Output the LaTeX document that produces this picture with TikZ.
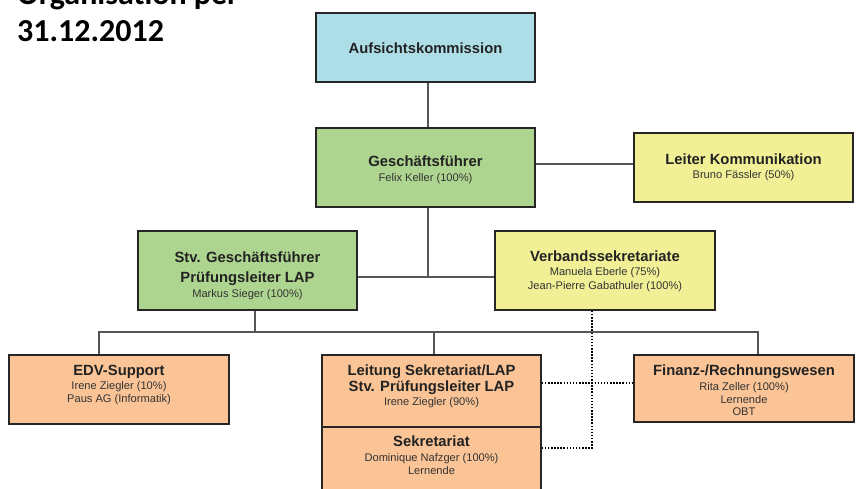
\documentclass[tikz,border=0pt]{standalone}
\usepackage{fontspec}
\setmainfont{Liberation Sans}
\newfontfamily\titlefont{Carlito}
\definecolor{cblue}{HTML}{ADDEE7}
\definecolor{cgreen}{HTML}{AED590}
\definecolor{cyellow}{HTML}{F2F097}
\definecolor{corange}{HTML}{FAC496}
\definecolor{cborder}{HTML}{262626}
\definecolor{cline}{HTML}{555555}
\definecolor{ctext}{HTML}{222222}
\definecolor{csub}{HTML}{333333}
\tikzset{
  box/.style={draw=cborder, line width=1.6pt, rectangle, inner sep=0pt},
  tt/.style={anchor=base, inner sep=0pt, text=ctext, font=\bfseries\fontsize{14.8}{17}\selectfont},
  st/.style={anchor=base, inner sep=0pt, text=csub, font=\fontsize{11.1}{13}\selectfont},
  conn/.style={draw=cline, line width=1.1pt},
  dotl/.style={draw=black, line width=1.5pt, dash pattern=on 1.5pt off 1.6pt},
  ttl/.style={anchor=base west, inner sep=0pt, text=black, font=\titlefont\bfseries\fontsize{32}{38}\selectfont}
}
\begin{document}
\begin{tikzpicture}[x=1pt,y=-1pt]
\useasboundingbox (0,0) rectangle (857,489);
\clip (0,0) rectangle (857,489);
\fill[white] (0,0) rectangle (857,489);

% title (cut off at the top edge, as in the reference)
\node[ttl] (t1) at (17,4.5) {Organisation per};
\node[ttl] (t2) at (17,42) {31.12.2012};

% boxes
\node[box, fill=cblue,   minimum width=219pt, minimum height=69pt] (aufs)   at (425.5,47.5) {};
\node[box, fill=cgreen,  minimum width=219pt, minimum height=79pt] (gf)     at (425.5,167.5) {};
\node[box, fill=cyellow, minimum width=219pt, minimum height=69pt] (leiter) at (743.5,167.5) {};
\node[box, fill=cgreen,  minimum width=219pt, minimum height=79pt] (stv)    at (247.5,270.5) {};
\node[box, fill=cyellow, minimum width=220pt, minimum height=79pt] (verb)   at (605,270.5) {};
\node[box, fill=corange, minimum width=220pt, minimum height=69pt] (edv)    at (119,389.5) {};
\node[box, fill=corange, minimum width=219pt, minimum height=72pt] (leit)   at (431.5,391) {};
\node[box, fill=corange, minimum width=219pt, minimum height=73pt] (sekr)   at (431.5,463.5) {};
\node[box, fill=corange, minimum width=220pt, minimum height=67pt] (fin)    at (744,388.5) {};

% texts
\node[tt] (aufsT) at (425.5,53.5) {Aufsichtskommission};

\node[tt] (gfT)  at (425.5,167) {Geschäftsführer};
\node[st] (gfS)  at (425.5,182) {Felix Keller (100\%)};

\node[tt] (leiT) at (743.5,165) {Leiter Kommunikation};
\node[st] (leiS) at (743.5,179) {Bruno Fässler (50\%)};

\node[tt] (stvT1) at (247.5,262) {Stv. Geschäftsführer};
\node[tt] (stvT2) at (247.5,282.5) {Prüfungsleiter LAP};
\node[st] (stvS)  at (247.5,298) {Markus Sieger (100\%)};

\node[tt] (verT)  at (605,261.5) {Verbandssekretariate};
\node[st] (verS1) at (605,276) {Manuela Eberle (75\%)};
\node[st] (verS2) at (605,290) {Jean-Pierre Gabathuler (100\%)};

\node[tt] (edvT)  at (119,375) {EDV-Support};
\node[st] (edvS1) at (119,389) {Irene Ziegler (10\%)};
\node[st] (edvS2) at (119,402.7) {Paus AG (Informatik)};

\node[tt] (leitT1) at (431.5,375) {Leitung Sekretariat/LAP};
\node[tt] (leitT2) at (431.5,391.7) {Stv. Prüfungsleiter LAP};
\node[st] (leitS)  at (431.5,405.7) {Irene Ziegler (90\%)};

\node[tt] (sekT)  at (431.5,446.7) {Sekretariat};
\node[st] (sekS1) at (431.5,461.7) {Dominique Nafzger (100\%)};
\node[st] (sekS2) at (431.5,474) {Lernende};

\node[tt] (finT)  at (744,375) {Finanz-/Rechnungswesen};
\node[st] (finS1) at (744,390.7) {Rita Zeller (100\%)};
\node[st] (finS2) at (744,403) {Lernende};
\node[st] (finS3) at (744,415) {OBT};

% connectors
\coordinate (jgf) at (428,277);
\coordinate (jk) at (600,164);
\coordinate (busL) at (99,332);
\coordinate (busR) at (758,332);
\coordinate (bstv) at (255,332);
\coordinate (bleit) at (434,332);
\coordinate (dv) at (592,448);
\coordinate (dh) at (600,383);

\draw[conn] (aufs.south -| jgf) -- (gf.north -| jgf);
\draw[conn] (gf.south -| jgf) -- (jgf);
\draw[conn] (gf.east |- jk) -- (leiter.west |- jk);
\draw[conn] (stv.east |- jgf) -- (verb.west |- jgf);
\draw[conn] (stv.south -| bstv) -- (bstv);
\draw[conn] (busL |- edv.north) -- (busL) -- (busR) -- (busR |- fin.north);
\draw[conn] (bleit) -- (bleit |- leit.north);
\draw[dotl] (verb.south -| dv) -- (dv) -- (sekr.east |- dv);
\draw[dotl] (leit.east |- dh) -- (fin.west |- dh);
\end{tikzpicture}
\end{document}
